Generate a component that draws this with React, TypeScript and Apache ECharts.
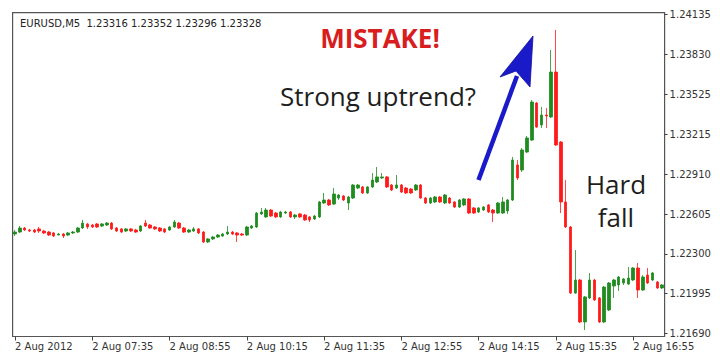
import React, { useEffect, useRef } from "react";
import * as echarts from "echarts";

const symbolInfo = "EURUSD,M5  1.23316 1.23352 1.23296 1.23328";
const xTickLabels = [
  "2 Aug 2012", "2 Aug 07:35", "2 Aug 08:55", "2 Aug 10:15", "2 Aug 11:35",
  "2 Aug 12:55", "2 Aug 14:15", "2 Aug 15:35", "2 Aug 16:55",
];
const yTickValues = [1.2169, 1.21995, 1.223, 1.22605, 1.2291, 1.23215, 1.23525, 1.2383, 1.24135];

const opens = [
  1.22452, 1.22467, 1.22498, 1.22483, 1.22483, 1.22491, 1.22475, 1.22467, 1.2246, 1.22444,
  1.22452, 1.22444, 1.2246, 1.22467, 1.22498, 1.22529, 1.22521, 1.22529, 1.22513, 1.22521,
  1.22536, 1.22498, 1.22491, 1.22475, 1.22491, 1.22483, 1.22475, 1.22536, 1.22521, 1.22506,
  1.22498, 1.22491, 1.22483, 1.22506, 1.22536, 1.22498, 1.22467, 1.22475, 1.22491, 1.22467,
  1.22391, 1.22414, 1.22429, 1.22437, 1.22452, 1.22467, 1.2246, 1.22452, 1.22444, 1.22498,
  1.22506, 1.22606, 1.22583, 1.22636, 1.22613, 1.22583, 1.22613, 1.22621, 1.22583, 1.22606,
  1.22598, 1.22583, 1.22567, 1.22583, 1.2269, 1.22713, 1.22682, 1.22728, 1.22744, 1.2269,
  1.22728, 1.22805, 1.22813, 1.22767, 1.22813, 1.22851, 1.22882, 1.2289, 1.22828, 1.22805,
  1.22828, 1.22805, 1.22797, 1.2279, 1.22828, 1.22728, 1.2269, 1.22698, 1.22736, 1.2269,
  1.22728, 1.22698, 1.22659, 1.22675, 1.22721, 1.22652, 1.22621, 1.22636, 1.22675, 1.22636,
  1.22613, 1.22613, 1.22629, 1.22713, 1.22982, 1.22943, 1.23081, 1.23173, 1.23457, 1.23289,
  1.23365, 1.2335, 1.23695, 1.23158, 1.22698, 1.22506, 1.21999, 1.22099, 1.21777, 1.21961,
  1.22099, 1.21961, 1.21777, 1.21869, 1.22053, 1.22061, 1.22076, 1.22068, 1.22099, 1.22191,
  1.22022, 1.22137, 1.22099, 1.22084, 1.22038,
];
const closes = [
  1.22467, 1.22498, 1.22483, 1.22475, 1.22467, 1.22475, 1.2246, 1.22444, 1.22437, 1.22452,
  1.22437, 1.2246, 1.22467, 1.22498, 1.22536, 1.22506, 1.22506, 1.22506, 1.22529, 1.22536,
  1.22491, 1.22475, 1.22467, 1.22491, 1.22475, 1.22467, 1.22513, 1.22513, 1.22498, 1.22491,
  1.22475, 1.22467, 1.22506, 1.22544, 1.22498, 1.22467, 1.22483, 1.22491, 1.2246, 1.22391,
  1.22414, 1.22429, 1.22444, 1.22452, 1.22467, 1.22452, 1.22444, 1.22444, 1.22506, 1.22513,
  1.22613, 1.22621, 1.22636, 1.2259, 1.22583, 1.22621, 1.22621, 1.22583, 1.22598, 1.22583,
  1.2256, 1.2256, 1.2259, 1.22698, 1.22713, 1.22675, 1.22759, 1.22751, 1.22713, 1.22736,
  1.22828, 1.22828, 1.22767, 1.22813, 1.22866, 1.2289, 1.2289, 1.22813, 1.2279, 1.22828,
  1.22774, 1.22767, 1.22767, 1.22828, 1.22728, 1.2269, 1.22728, 1.22736, 1.22698, 1.22751,
  1.2269, 1.22659, 1.22713, 1.22721, 1.22613, 1.22613, 1.22652, 1.22659, 1.22621, 1.22613,
  1.2269, 1.22698, 1.22713, 1.2302, 1.22882, 1.23097, 1.23189, 1.23465, 1.23273, 1.23365,
  1.23358, 1.23695, 1.23135, 1.22698, 1.22506, 1.21999, 1.22099, 1.21777, 1.21969, 1.22099,
  1.21946, 1.21777, 1.22045, 1.22076, 1.22099, 1.22122, 1.22107, 1.22114, 1.22191, 1.22022,
  1.22122, 1.22076, 1.22153, 1.22038, 1.22061,
];
const lows = [
  1.22437, 1.2246, 1.22475, 1.22467, 1.2246, 1.2246, 1.22452, 1.22437, 1.22429, 1.22444,
  1.22421, 1.22437, 1.22452, 1.2246, 1.22491, 1.22491, 1.22498, 1.22498, 1.22506, 1.22513,
  1.22483, 1.22467, 1.2246, 1.22467, 1.22467, 1.2246, 1.22467, 1.22506, 1.22491, 1.22483,
  1.22467, 1.2246, 1.22475, 1.22498, 1.22491, 1.2246, 1.2246, 1.22467, 1.22452, 1.22383,
  1.22383, 1.22406, 1.22421, 1.22429, 1.22444, 1.22444, 1.22391, 1.22437, 1.22437, 1.22491,
  1.22498, 1.22598, 1.22575, 1.22583, 1.22575, 1.22575, 1.22606, 1.22575, 1.22567, 1.22575,
  1.22552, 1.22544, 1.2256, 1.22575, 1.22682, 1.22667, 1.22675, 1.22713, 1.22705, 1.22636,
  1.22721, 1.22797, 1.22759, 1.22759, 1.22805, 1.22843, 1.22874, 1.22805, 1.22782, 1.22797,
  1.22767, 1.22759, 1.22759, 1.22782, 1.22721, 1.22682, 1.22682, 1.2269, 1.2269, 1.22682,
  1.22682, 1.22652, 1.22652, 1.22667, 1.22606, 1.22606, 1.22613, 1.22629, 1.22613, 1.22544,
  1.22606, 1.22606, 1.22606, 1.22705, 1.22866, 1.22928, 1.23074, 1.23166, 1.23266, 1.23266,
  1.23266, 1.23342, 1.23127, 1.22613, 1.22498, 1.21992, 1.21992, 1.21769, 1.21715, 1.21953,
  1.21938, 1.21769, 1.21769, 1.21861, 1.21961, 1.22015, 1.22061, 1.22061, 1.22091, 1.21961,
  1.22015, 1.22068, 1.22091, 1.2203, 1.2203,
];
const highs = [
  1.22483, 1.22513, 1.22506, 1.22491, 1.22491, 1.22506, 1.22483, 1.22475, 1.22467, 1.2246,
  1.2246, 1.22467, 1.22475, 1.22506, 1.2256, 1.22536, 1.22529, 1.22536, 1.22536, 1.22544,
  1.22544, 1.22506, 1.22498, 1.22498, 1.22498, 1.22491, 1.22521, 1.2256, 1.22529, 1.22513,
  1.22506, 1.22498, 1.22513, 1.2256, 1.22544, 1.22506, 1.22491, 1.22506, 1.22498, 1.22475,
  1.22421, 1.22437, 1.22452, 1.2246, 1.22513, 1.22475, 1.22467, 1.2246, 1.22513, 1.22521,
  1.22621, 1.22652, 1.22652, 1.22644, 1.22621, 1.22629, 1.22629, 1.22629, 1.22606, 1.22613,
  1.22606, 1.2259, 1.22598, 1.22705, 1.22767, 1.22721, 1.22805, 1.22759, 1.22751, 1.22744,
  1.22836, 1.22836, 1.2282, 1.2282, 1.2292, 1.22966, 1.2292, 1.22897, 1.22836, 1.22905,
  1.22836, 1.22813, 1.22805, 1.22836, 1.22836, 1.22736, 1.22736, 1.22744, 1.22744, 1.22759,
  1.22736, 1.22705, 1.22721, 1.22728, 1.22728, 1.22659, 1.22659, 1.22667, 1.22682, 1.22644,
  1.22698, 1.22736, 1.22721, 1.23043, 1.2302, 1.23112, 1.23204, 1.2348, 1.23465, 1.23427,
  1.23419, 1.23864, 1.24018, 1.23166, 1.22866, 1.22513, 1.22329, 1.22107, 1.21976, 1.22153,
  1.22107, 1.21969, 1.22053, 1.22084, 1.22107, 1.2213, 1.22114, 1.22199, 1.22199, 1.2223,
  1.22137, 1.22191, 1.22161, 1.22091, 1.22068,
];

const pad = (n: number) => String(n).padStart(2, "0");
const categories = opens.map((_, i) => {
  const m = 6 * 60 + 15 + 5 * i;
  return `${pad(Math.floor(m / 60))}:${pad(m % 60)}`;
});

const UP = "#1f8c1f";
const DOWN = "#ff1a1a";
const FONT = "DejaVu Sans";

export default function App() {
  const ref = useRef<HTMLDivElement>(null);
  useEffect(() => {
    if (!ref.current) return;
    const chart = echarts.init(ref.current, undefined, { renderer: "svg" });
    const data = opens.map((o, i) => [o, closes[i], lows[i], highs[i]]);
    const everySixteen = (i: number) => i % 16 === 0;
    chart.setOption({
      animation: false,
      backgroundColor: "#ffffff",
      grid: {
        left: 12.6,
        right: 55.4,
        top: 12.7,
        bottom: 23.5,
        show: true,
        borderColor: "#555",
        borderWidth: 1.2,
        backgroundColor: "transparent",
      },
      xAxis: {
        type: "category",
        data: categories,
        boundaryGap: true,
        axisLine: { show: false },
        splitLine: { show: false },
        axisTick: {
          show: true,
          alignWithLabel: true,
          interval: everySixteen,
          length: 4,
          lineStyle: { color: "#444" },
        },
        axisLabel: {
          interval: everySixteen,
          formatter: (_v: string, i: number) => xTickLabels[i / 16] ?? "",
          align: "left",
          margin: 5,
          fontFamily: FONT,
          fontSize: 10,
          color: "#333",
        },
      },
      yAxis: {
        type: "value",
        position: "right",
        min: 1.216654,
        max: 1.241503,
        axisLine: { show: false },
        splitLine: { show: false },
        axisTick: {
          show: true,
          customValues: yTickValues,
          length: 3,
          lineStyle: { color: "#444" },
        },
        axisLabel: {
          customValues: yTickValues,
          formatter: (v: number) => v.toFixed(5),
          margin: 5,
          fontFamily: FONT,
          fontSize: 10,
          color: "#333",
        },
      },
      series: [
        {
          type: "candlestick",
          data,
          barWidth: 3,
          itemStyle: {
            color: UP,
            color0: DOWN,
            borderColor: UP,
            borderColor0: DOWN,
            borderColorDoji: "#222",
            borderWidth: 0.8,
          },
        },
      ],
      graphic: [
        {
          type: "text",
          x: 20,
          y: 23,
          z: 10,
          style: {
            text: symbolInfo,
            fill: "#222",
            font: `10px "${FONT}"`,
            textAlign: "left",
            textVerticalAlign: "middle",
          },
        },
        {
          type: "text",
          x: 380,
          y: 38,
          z: 10,
          style: {
            text: "MISTAKE!",
            fill: "#d81e1e",
            font: 'bold 26px "Open Sans"',
            textAlign: "center",
            textVerticalAlign: "middle",
          },
        },
        {
          type: "text",
          x: 378,
          y: 96,
          z: 10,
          style: {
            text: "Strong uptrend?",
            fill: "#1e1e1e",
            font: '26px "Open Sans"',
            textAlign: "center",
            textVerticalAlign: "middle",
          },
        },
        {
          type: "text",
          x: 616,
          y: 184,
          z: 10,
          style: {
            text: "Hard",
            fill: "#1e1e1e",
            font: '26px "Open Sans"',
            textAlign: "center",
            textVerticalAlign: "middle",
          },
        },
        {
          type: "text",
          x: 616,
          y: 217,
          z: 10,
          style: {
            text: "fall",
            fill: "#1e1e1e",
            font: '26px "Open Sans"',
            textAlign: "center",
            textVerticalAlign: "middle",
          },
        },
        {
          type: "line",
          z: 10,
          shape: { x1: 478.5, y1: 180, x2: 517, y2: 76 },
          style: { stroke: "#1a1ac8", lineWidth: 4.5, lineCap: "butt" },
        },
        {
          type: "polygon",
          z: 11,
          shape: {
            points: [
              [533, 36],
              [500, 77],
              [516, 71],
              [530, 87],
            ],
          },
          style: { fill: "#1a1ac8", stroke: "#1010a0", lineWidth: 0.8 },
        },
      ],
    });
    return () => chart.dispose();
  }, []);
  return <div ref={ref} style={{ width: 720, height: 360, position: "absolute", left: 0, top: 0 }} />;
}
